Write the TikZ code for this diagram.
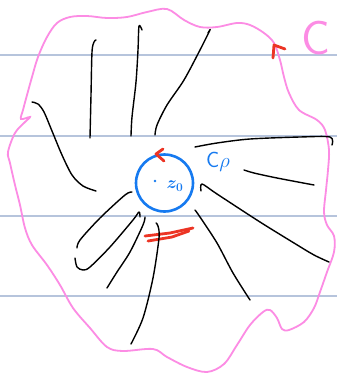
\documentclass[tikz,border=0pt]{standalone}
\usepackage{amsmath,amssymb}
\usepackage{xcolor}
\usepackage{tikz}
\definecolor{rulegray}{RGB}{182,196,220}
\definecolor{loopink}{RGB}{252,140,228}
\definecolor{penblue}{RGB}{22,122,240}
\definecolor{penred}{RGB}{236,52,36}

\begin{document}
\begin{tikzpicture}[
  x=1pt, y=-1pt,
  ruling/.style={rulegray,line width=1.3pt},
  contour/.style={loopink,line width=1.8pt},
  flowline/.style={black,line width=1.4pt,line cap=round,line join=round},
  smallcirc/.style={draw=penblue,circle,line width=2.6pt,minimum size=57pt,inner sep=0pt},
  redmark/.style={penred,line width=2.8pt,line cap=round,line join=round}
]
\useasboundingbox[fill=white] (0,0) rectangle (337,375);
% ruled paper
\foreach \yy in {55,136,216,296}
  \draw[ruling] (0,\yy) -- (337,\yy);
% big contour C
\draw[contour] plot[smooth cycle,tension=0.55] coordinates {
  (87,16) (107,18) (127,17) (147,12) (167,9) (184,20) (200,27) (217,27)
  (237,23) (250,25) (264,33) (274,43) (280,60) (284,77) (289,93) (299,110)
  (317,120) (325,130) (329,150) (328,170) (326,190) (324,212) (327,225)
  (334,236) (334,252) (327,272) (320,292) (314,308) (304,322) (289,330)
  (282,329) (277,318) (270,310) (263,312) (250,325) (237,345) (224,364)
  (207,372) (187,367) (167,357) (153,349) (123,351) (107,347) (90,328)
  (73,308) (60,285) (47,265) (32,245) (25,228) (20,205) (15,185) (10,163)
  (8,152) (15,133) (25,122) (30,117) (21,119) (23,110) (27,95) (32,77)
  (38,57) (47,37) (57,23) (70,17)};
\draw[redmark] (273,58) -- (274,45) -- (285,49);
\node[loopink,font=\sffamily\fontsize{48}{48}\selectfont] (bigC) at (316,38) {C};
% small contour around z0
\node[smallcirc] (disc) at (164.5,183) {};
\draw[redmark] (163,149) -- (156,154) -- (164,161);
\fill[penblue] (155,181) circle (1.4);
\node[penblue,font=\boldmath\fontsize{17}{17}\selectfont] (zo) at (175,186) {$z_0$};
\node[penblue,font=\sffamily\fontsize{22}{22}\selectfont,inner sep=0pt] (cp) at (218,162) {C$\rho$};
\draw[redmark] (145,236) -- (170,233) -- (193,228);
\draw[redmark] (148,241) -- (172,237) -- (189,231);
% flow lines
\draw[flowline] plot[smooth] coordinates {(32,102) (38,104) (44,112) (52,131) (62,155) (72,175) (83,186) (96,191)};
\draw[flowline] plot[smooth] coordinates {(90,138) (91,95) (92,52) (94,42) (96,40)};
\draw[flowline] plot[smooth] coordinates {(131,136) (132,117) (136,82) (138,50) (139,26) (142,30)};
\draw[flowline] plot[smooth] coordinates {(155,135) (157,125) (167,105) (184,80) (200,50) (210,30) (208,33)};
\draw[flowline] plot[smooth] coordinates {(195,147) (217,143) (250,139) (300,137) (330,137) (332,145)};
\draw[flowline] plot[smooth] coordinates {(244,170) (254,173) (277,178) (314,185)};
\draw[flowline] plot[smooth] coordinates {(201,191) (202,184) (217,194) (260,222) (294,243) (314,255) (329,262)};
\draw[flowline] plot[smooth] coordinates {(195,210) (200,217) (217,243) (233,273) (250,300)};
\draw[flowline] plot[smooth] coordinates {(132,192) (125,195) (100,218) (80,240) (77,248)};
\draw[flowline] plot[smooth] coordinates {(75,258) (77,267) (83,270) (90,267) (110,247) (133,220) (139,212) (140,217)};
\draw[flowline] plot[smooth] coordinates {(145,217) (143,225) (130,252) (117,272) (107,288)};
\draw[flowline] plot[smooth] coordinates {(156,223) (158,226) (159,238) (153,278) (143,318) (131,344)};
\end{tikzpicture}
\end{document}
